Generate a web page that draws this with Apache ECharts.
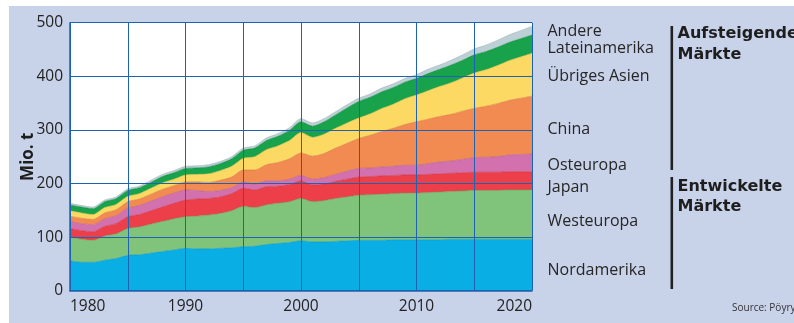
<!DOCTYPE html>
<html>
<head>
<meta charset="utf-8">
<script src="https://cdn.jsdelivr.net/npm/echarts@6/dist/echarts.min.js"></script>
<style>
  html, body { margin: 0; padding: 0; background: #ffffff; }
  #wrap { position: relative; width: 794px; height: 323px; overflow: hidden; background: #ffffff; }
  #panel { position: absolute; left: 9px; top: 6px; width: 785px; height: 317px; background: #c8d3ea; }
  #chart { position: absolute; left: 0; top: 0; width: 794px; height: 323px; }
</style>
</head>
<body>
<div id="wrap"><div id="panel"></div><div id="chart"></div></div>
<script>
// Years 1980..2020
const years = [1980,1981,1982,1983,1984,1985,1986,1987,1988,1989,1990,1991,1992,1993,1994,1995,1996,1997,1998,1999,2000,2001,2002,2003,2004,2005,2006,2007,2008,2009,2010,2011,2012,2013,2014,2015,2016,2017,2018,2019,2020];

// Mio. t per region (stacked, bottom to top)
const nordamerika   = [56,53,53,57,60,66,67,70,73,76,79,78,78,79,80,82,83,86,88,90,93,91,91,92,93,94,94,94,95,95,95,95,95,96,96,96,96,96,96,96,96];
const westeuropa    = [44,43,41,45,46,50,52,54,56,58,59,61,63,65,69,75,72,74,75,76,79,75,77,80,82,84,85,86,86,87,87,88,89,89,90,91,91,91,92,92,92];
const japan         = [16,16,16,18,19,22,23,25,27,29,31,32,31,31,32,34,33,34,32,32,33,31,31,32,33,34,34,34,34,34,34,34,34,34,34,34,34,34,34,34,34];
const osteuropa     = [13,13,13,14,15,16,17,18,19,19,19,16,13,12,11,12,11,11,10,10,10,11,12,13,15,16,16,17,17,18,18,20,22,23,25,27,28,29,31,32,33];
const china         = [10,10,10,11,11,12,12,13,14,14,15,16,17,19,20,22,26,30,34,38,42,43,45,49,52,56,61,66,71,76,81,83,85,87,90,92,95,99,102,105,108];
const uebrigesAsien = [10,10,9,10,10,10,10,11,12,12,13,14,16,18,20,22,25,28,31,34,38,35,36,37,38,38,40,43,45,48,50,53,56,59,62,66,68,71,74,77,80];
const lateinamerika = [11,11,11,11,11,11,11,11,12,12,12,12,13,13,14,15,16,17,18,19,20,21,23,25,28,31,31,31,31,31,31,32,32,33,33,34,34,34,34,34,34];
const andere        = [3,3,3,3,3,3,3,4,4,4,4,4,4,4,4,4,4,5,5,5,6,6,6,6,6,6,6,7,7,7,7,8,8,9,10,11,12,13,14,15,16];

const yTicks = [0,100,200,300,400,500];
const xLabelYears = [1980,1990,2000,2010,2020];
const gridYears = [1980,1985,1990,1995,2000,2005,2010,2015,2020];

const seriesDefs = [
  { name: 'Nordamerika',    data: nordamerika,   color: '#09aee4', edge: '#0a97c4' },
  { name: 'Westeuropa',     data: westeuropa,    color: '#80c47c', edge: '#5ea85c' },
  { name: 'Japan',          data: japan,         color: '#ec3f4a', edge: '#c8343c' },
  { name: 'Osteuropa',      data: osteuropa,     color: '#d370ae', edge: '#b35c93' },
  { name: 'China',          data: china,         color: '#f18b52', edge: '#d87440' },
  { name: 'Übriges Asien',  data: uebrigesAsien, color: '#fbd962', edge: '#e3bf4a' },
  { name: 'Lateinamerika',  data: lateinamerika, color: '#17a24b', edge: '#138a3f' },
  { name: 'Andere',         data: andere,        color: '#bcd0d6', edge: '#9fb3ba' }
];

const FONT = '"Open Sans", "Noto Sans", sans-serif';
const BOLDFONT = '"DejaVu Sans", "Open Sans", sans-serif';
const gridBlue = '#1f63b0';

const chart = echarts.init(document.getElementById('chart'), null, { renderer: 'canvas' });

const series = seriesDefs.map(s => ({
  name: s.name,
  type: 'line',
  stack: 'total',
  smooth: 0.25,
  symbol: 'none',
  z: 2,
  lineStyle: { width: 1, color: s.edge, opacity: 0.6 },
  areaStyle: { color: s.color, opacity: 1 },
  itemStyle: { color: s.color },
  data: s.data.slice()
}));

const regionLabels = [
  { text: 'Andere',        y: 31 },
  { text: 'Lateinamerika', y: 48 },
  { text: 'Übriges Asien', y: 76.5 },
  { text: 'China',         y: 129 },
  { text: 'Osteuropa',     y: 165 },
  { text: 'Japan',         y: 187.5 },
  { text: 'Westeuropa',    y: 221 },
  { text: 'Nordamerika',   y: 270.5 }
];
const groupLabels = [
  { text: 'Aufsteigende', y: 33.5 },
  { text: 'Märkte',       y: 55 },
  { text: 'Entwickelte',  y: 187 },
  { text: 'Märkte',       y: 207 }
];

const graphics = [];
regionLabels.forEach(l => graphics.push({
  type: 'text', x: 547.5, y: l.y, z: 10,
  style: { text: l.text, font: '16px ' + FONT, fill: '#262626', textAlign: 'left', textVerticalAlign: 'middle', align: 'left', verticalAlign: 'middle' }
}));
groupLabels.forEach(l => graphics.push({
  type: 'text', x: 677.5, y: l.y, z: 10,
  style: { text: l.text, font: 'bold 16px ' + BOLDFONT, fill: '#1e1e1e', textAlign: 'left', textVerticalAlign: 'middle', align: 'left', verticalAlign: 'middle' }
}));
graphics.push({ type: 'rect', z: 10, shape: { x: 670.5, y: 26, width: 2.6, height: 144 }, style: { fill: '#222' } });
graphics.push({ type: 'rect', z: 10, shape: { x: 670.5, y: 177, width: 2.6, height: 112 }, style: { fill: '#222' } });
graphics.push({
  type: 'text', x: 732, y: 308, z: 10,
  style: { text: 'Source: Pöyry', font: '10px ' + FONT, fill: '#333', textAlign: 'left', textVerticalAlign: 'middle', align: 'left', verticalAlign: 'middle' }
});

chart.setOption({
  animation: false,
  backgroundColor: 'transparent',
  grid: {
    left: 70, right: 262, top: 22.7, bottom: 32.3,
    show: true, backgroundColor: '#ffffff', borderWidth: 0,
    containLabel: false
  },
  xAxis: {
    type: 'category',
    data: years.map(String),
    boundaryGap: false,
    z: 5,
    axisLine: { show: true, lineStyle: { color: gridBlue, width: 1.5 } },
    axisTick: { show: false },
    splitLine: {
      show: true,
      interval: (idx) => gridYears.indexOf(years[idx]) >= 0,
      lineStyle: { color: gridBlue, width: 1 }
    },
    axisLabel: {
      margin: 8,
      color: '#222',
      fontFamily: FONT,
      fontSize: 15.5,
      interval: (idx) => xLabelYears.indexOf(years[idx]) >= 0,
      alignMinLabel: 'left',
      alignMaxLabel: 'right'
    }
  },
  yAxis: {
    type: 'value',
    min: 0, max: 500, interval: 100,
    z: 5,
    name: 'Mio. t',
    nameLocation: 'middle',
    nameGap: 33,
    nameMoveOverlap: false,
    nameRotate: 90,
    nameTextStyle: { fontFamily: FONT, fontWeight: 'bold', fontSize: 17, color: '#1e1e1e' },
    axisLine: { show: true, lineStyle: { color: gridBlue, width: 1.5 } },
    axisTick: { show: false },
    splitLine: { show: true, lineStyle: { color: gridBlue, width: 1 } },
    axisLabel: {
      margin: 7,
      color: '#222',
      fontFamily: FONT,
      fontSize: 15.5,
      formatter: v => (yTicks.indexOf(v) >= 0 ? String(v) : '')
    }
  },
  series: series,
  graphic: graphics
});
</script>
</body>
</html>
